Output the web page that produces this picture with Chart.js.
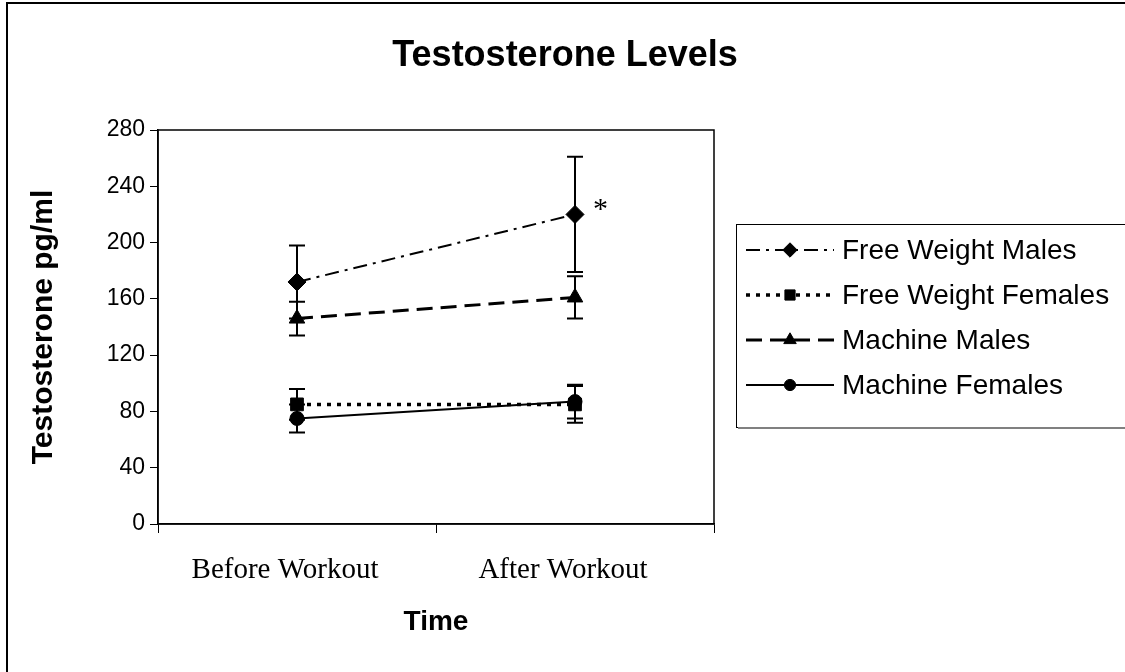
<!DOCTYPE html>
<html>
<head>
<meta charset="utf-8">
<script src="https://cdn.jsdelivr.net/npm/chart.js@4/dist/chart.umd.min.js"></script>
<style>
  html, body { margin: 0; padding: 0; background: #fff; }
</style>
</head>
<body>
<canvas id="myChart" width="1125" height="672"></canvas>
<script>
// data
const timePoints = ["Before Workout", "After Workout"];
const seriesNames = ["Free Weight Males", "Free Weight Females", "Machine Males", "Machine Females"];
const freeWeightMales = [172, 220];
const freeWeightMalesErr = [26, 41];
const freeWeightFemales = [85, 85];
const freeWeightFemalesErr = [11, 13];
const machineMales = [146, 161];
const machineMalesErr = [12, 15];
const machineFemales = [75, 87];
const machineFemalesErr = [10, 12];
const yMin = 0;
const yMax = 280;
const yStep = 40;
const chartTitle = "Testosterone Levels";
const yTitle = "Testosterone pg/ml";
const xTitle = "Time";
const significantMark = "*";

const errors = [freeWeightMalesErr, freeWeightFemalesErr, machineMalesErr, machineFemalesErr];

function makeSet(label, data, style, radius, dash, width) {
  return {
    label: label,
    data: data,
    borderColor: "#000",
    backgroundColor: "#000",
    borderWidth: width,
    borderDash: dash,
    pointStyle: style,
    pointRadius: radius,
    pointHoverRadius: radius,
    pointBackgroundColor: "#000",
    pointBorderColor: "#000",
    pointBorderWidth: 1,
    tension: 0,
  };
}

const decor = {
  id: "decor",
  beforeDraw(chart) {
    const ctx = chart.ctx;
    ctx.save();
    ctx.fillStyle = "#fff";
    ctx.fillRect(0, 0, chart.width, chart.height);
    // outer frame, only left and top edges fall inside the picture
    ctx.strokeStyle = "#000";
    ctx.lineWidth = 2;
    ctx.beginPath();
    ctx.moveTo(7, chart.height + 5);
    ctx.lineTo(7, 3);
    ctx.lineTo(chart.width + 5, 3);
    ctx.stroke();
    ctx.restore();
  },
  beforeDatasetsDraw(chart) {
    const ctx = chart.ctx;
    const y = chart.scales.y;
    ctx.save();
    ctx.strokeStyle = "#000";
    ctx.lineWidth = 2;
    ctx.setLineDash([]);
    chart.data.datasets.forEach((ds, i) => {
      const meta = chart.getDatasetMeta(i);
      meta.data.forEach((pt, j) => {
        const v = ds.data[j];
        const e = errors[i][j];
        const top = y.getPixelForValue(v + e);
        const bot = y.getPixelForValue(v - e);
        ctx.beginPath();
        ctx.moveTo(pt.x, top);
        ctx.lineTo(pt.x, bot);
        ctx.moveTo(pt.x - 8, top);
        ctx.lineTo(pt.x + 8, top);
        ctx.moveTo(pt.x - 8, bot);
        ctx.lineTo(pt.x + 8, bot);
        ctx.stroke();
      });
    });
    ctx.restore();
  },
  afterDraw(chart) {
    const ctx = chart.ctx;
    const area = chart.chartArea;
    ctx.save();
    // plot area box
    ctx.strokeStyle = "#000";
    ctx.lineWidth = 1.5;
    ctx.strokeRect(area.left, area.top, area.right - area.left, area.bottom - area.top);

    // title
    ctx.fillStyle = "#000";
    ctx.font = "bold 36px Arial, 'Liberation Sans', sans-serif";
    ctx.textAlign = "center";
    ctx.textBaseline = "middle";
    ctx.fillText(chartTitle, 565, 56);

    // asterisk next to the after-workout free weight males point
    const p = chart.getDatasetMeta(0).data[1];
    ctx.font = "30px 'Liberation Serif', 'Times New Roman', serif";
    ctx.textAlign = "left";
    ctx.fillText(significantMark, p.x + 18, p.y - 4);

    // legend
    const lx = 736, ly = 224, lh = 203;
    ctx.fillStyle = "#fff";
    ctx.fillRect(lx, ly, chart.width - lx + 5, lh);
    ctx.lineWidth = 1;
    ctx.strokeStyle = "#000";
    ctx.strokeRect(lx + 0.5, ly + 0.5, chart.width, lh);
    ctx.strokeStyle = "#808080";
    ctx.lineWidth = 2;
    ctx.beginPath();
    ctx.moveTo(lx + 2, ly + lh + 1);
    ctx.lineTo(chart.width, ly + lh + 1);
    ctx.stroke();

    chart.data.datasets.forEach((ds, i) => {
      const ry = 250 + i * 45;
      ctx.strokeStyle = "#000";
      ctx.lineWidth = ds.borderWidth;
      ctx.setLineDash(ds.borderDash || []);
      ctx.beginPath();
      ctx.moveTo(746, ry);
      ctx.lineTo(834, ry);
      ctx.stroke();
      ctx.setLineDash([]);
      ctx.fillStyle = "#000";
      ctx.lineWidth = 1;
      Chart.helpers.drawPoint(ctx, {
        pointStyle: ds.pointStyle,
        radius: ds.pointRadius * 0.8,
        rotation: 0,
        borderWidth: 1,
      }, 790, ry);
      ctx.font = "28px Arial, 'Liberation Sans', sans-serif";
      ctx.textAlign = "left";
      ctx.textBaseline = "middle";
      ctx.fillText(ds.label, 842, ry + 1);
    });
    ctx.restore();
  },
};

new Chart(document.getElementById("myChart"), {
  type: "line",
  data: {
    labels: timePoints,
    datasets: [
      makeSet(seriesNames[0], freeWeightMales, "rectRot", 9, [14, 6, 3, 6], 2),
      makeSet(seriesNames[1], freeWeightFemales, "rect", 9, [4, 6], 3.5),
      makeSet(seriesNames[2], machineMales, "triangle", 9, [16, 8], 3),
      makeSet(seriesNames[3], machineFemales, "circle", 7, [], 2),
    ],
  },
  options: {
    responsive: false,
    animation: false,
    devicePixelRatio: 1,
    layout: {
      padding: { left: 0, top: 130, right: 411, bottom: 0 },
    },
    scales: {
      x: {
        offset: true,
        afterFit(scale) { scale.height = 148; },
        grid: {
          display: true,
          offset: true,
          drawOnChartArea: false,
          drawTicks: true,
          tickLength: 9,
          color: "#000",
        },
        border: { color: "#000", width: 1.5 },
        ticks: {
          color: "#000",
          padding: 20,
          labelOffset: -12,
          font: { family: "'Liberation Serif', 'Times New Roman', serif", size: 29 },
        },
        title: {
          display: true,
          text: xTitle,
          color: "#000",
          padding: { top: 0, bottom: 33 },
          font: { family: "Arial, 'Liberation Sans', sans-serif", size: 28, weight: "bold" },
        },
      },
      y: {
        min: yMin,
        max: yMax,
        afterFit(scale) { scale.width = 158; },
        grid: {
          display: true,
          drawOnChartArea: false,
          drawTicks: true,
          tickLength: 8,
          color: "#000",
        },
        border: { color: "#000", width: 1.5 },
        ticks: {
          stepSize: yStep,
          color: "#000",
          padding: 5,
          font: { family: "Arial, 'Liberation Sans', sans-serif", size: 23 },
        },
        title: {
          display: true,
          text: yTitle,
          color: "#000",
          padding: { top: 26, bottom: 0 },
          font: { family: "Arial, 'Liberation Sans', sans-serif", size: 30, weight: "bold" },
        },
      },
    },
    plugins: {
      legend: { display: false },
      title: { display: false },
      tooltip: { enabled: false },
    },
  },
  plugins: [decor],
});
</script>
</body>
</html>
